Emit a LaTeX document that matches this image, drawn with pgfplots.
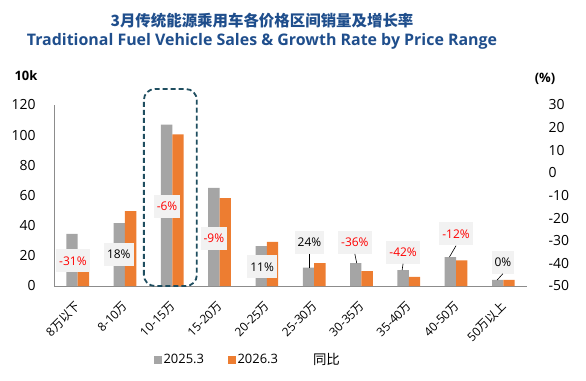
\documentclass[border=0pt]{standalone}
\usepackage{pgfplots}
\pgfplotsset{compat=1.18}
\usepackage{fontspec}
\setmainfont{Open Sans}
\newfontfamily\cjk{Noto Sans CJK SC}
\definecolor{bargray}{HTML}{A5A5A5}
\definecolor{barorange}{HTML}{ED7D31}
\definecolor{titleblue}{HTML}{1F4E8C}
\definecolor{boxteal}{HTML}{1F4E60}
\definecolor{lblfill}{HTML}{F2F2F2}
\definecolor{axisgray}{HTML}{8C8C8C}
\definecolor{negred}{HTML}{FF0000}
\begin{document}
\begin{tikzpicture}
\useasboundingbox (0bp,0bp) rectangle (586bp,381bp);
\node[font=\cjk\bfseries\fontsize{15.5}{18}\selectfont, text=titleblue] at (262bp,360bp) {3月传统能源乘用车各价格区间销量及增长率};
\node[font=\bfseries\fontsize{16}{19}\selectfont, text=titleblue] at (262bp,340bp) {Traditional Fuel Vehicle Sales \& Growth Rate by Price Range};
\node[font=\bfseries\fontsize{13}{15}\selectfont] at (26bp,305bp) {10k};
\node[font=\bfseries\fontsize{13}{15}\selectfont] at (545bp,302bp) {(\%)};

% right axis (growth rate)
\begin{axis}[at={(54bp,95bp)}, anchor=south west, scale only axis,
  width=473bp, height=181bp,
  xmin=-0.5, xmax=9.5, ymin=-50, ymax=30,
  ytick={-50,-40,...,30},
  axis y line*=right, hide x axis,
  axis line style={draw=none},
  major tick length=0pt,
  yticklabel style={font=\fontsize{14}{16}\selectfont, xshift=18bp},
  /pgf/number format/assume math mode=true]
\addplot[draw=none, forget plot] coordinates {(0,-31) (1,18) (2,-6) (3,-9) (4,11) (5,24) (6,-36) (7,-42) (8,-12) (9,0)};
\end{axis}

% left axis (sales)
\begin{axis}[at={(54bp,95bp)}, anchor=south west, scale only axis,
  width=473bp, height=181bp,
  xmin=-0.5, xmax=9.5, ymin=0, ymax=120,
  ytick={0,20,...,120},
  xtick={0,...,9},
  xticklabels={{8{\cjk 万以下}},{8-10{\cjk 万}},{10-15{\cjk 万}},{15-20{\cjk 万}},{20-25{\cjk 万}},{25-30{\cjk 万}},{30-35{\cjk 万}},{35-40{\cjk 万}},{40-50{\cjk 万}},{50{\cjk 万以上}}},
  axis x line*=bottom, axis y line*=left,
  axis line style={draw=axisgray, line width=0.75bp},
  major tick length=0pt,
  yticklabel style={font=\fontsize{14}{16}\selectfont, xshift=-15bp},
  xticklabel style={font=\fontsize{12}{14}\selectfont, xshift=-3bp, yshift=-14bp, rotate=45, anchor=north east, inner sep=0pt},
  /pgf/number format/assume math mode=true,
  ybar, bar width=0.24,
  clip=false,
  legend columns=3,
  legend image code/.code={\fill[#1, draw=none] (0bp,-3.8bp) rectangle (7.6bp,3.8bp);},
  legend style={at={(rel axis cs:0.41,-0.409)}, anchor=center, draw=none, fill=none,
    font=\fontsize{13}{15}\selectfont,
    /tikz/every even column/.append style={column sep=22bp}},
  ]
\addplot[fill=bargray, draw=none, bar shift=-0.12] coordinates {(0,34.5) (1,41.7) (2,107) (3,65) (4,26.5) (5,12.1) (6,15.2) (7,10.6) (8,19.2) (9,4)};
\addlegendentry{2025.3}
\addplot[fill=barorange, draw=none, bar shift=0.12] coordinates {(0,23.3) (1,49.6) (2,100.6) (3,58.3) (4,29.2) (5,15.1) (6,9.9) (7,6.1) (8,17.0) (9,4)};
\addlegendentry{2026.3}
\addlegendimage{empty legend}
\addlegendentry{\hspace{9bp}{\cjk\fontsize{13.5}{15}\selectfont 同比}}

\draw[boxteal, line width=1.8bp, dash pattern=on 5bp off 3bp, rounded corners=11bp]
  (axis cs:1.40,0) rectangle (axis cs:2.52,130.6);

\tikzset{lbl/.style={fill=lblfill, font=\fontsize{12}{14}\selectfont, inner xsep=3bp, minimum height=23bp}}
\node[lbl, text=negred] at (axis cs:-0.1,16.6) {-31\%};
\node[lbl] at (axis cs:0.87,21.2) {18\%};
\node[lbl, text=negred] at (axis cs:1.89,53) {-6\%};
\node[lbl, text=negred] at (axis cs:2.88,31.8) {-9\%};
\node[lbl] at (axis cs:3.9,12.6) {11\%};
\node[lbl] (a) at (axis cs:4.9,29) {24\%};
\node[lbl, text=negred] (b) at (axis cs:5.86,29) {-36\%};
\node[lbl, text=negred] (c) at (axis cs:6.88,22.5) {-42\%};
\node[lbl, text=negred] (d) at (axis cs:8.0,34.5) {-12\%};
\node[lbl] (e) at (axis cs:8.99,15.9) {0\%};
\draw[line width=0.6bp] (a.south) -- (axis cs:4.9,12.1);
\draw[line width=0.6bp] (b.south) -- (axis cs:5.9,15.2);
\draw[line width=0.6bp] (c.south) -- (axis cs:6.86,10.6);
\draw[line width=0.6bp] (d.south) -- (axis cs:7.86,19.2);
\draw[line width=0.6bp] (e.south) -- (axis cs:8.87,4);
\end{axis}
\end{tikzpicture}
\end{document}
